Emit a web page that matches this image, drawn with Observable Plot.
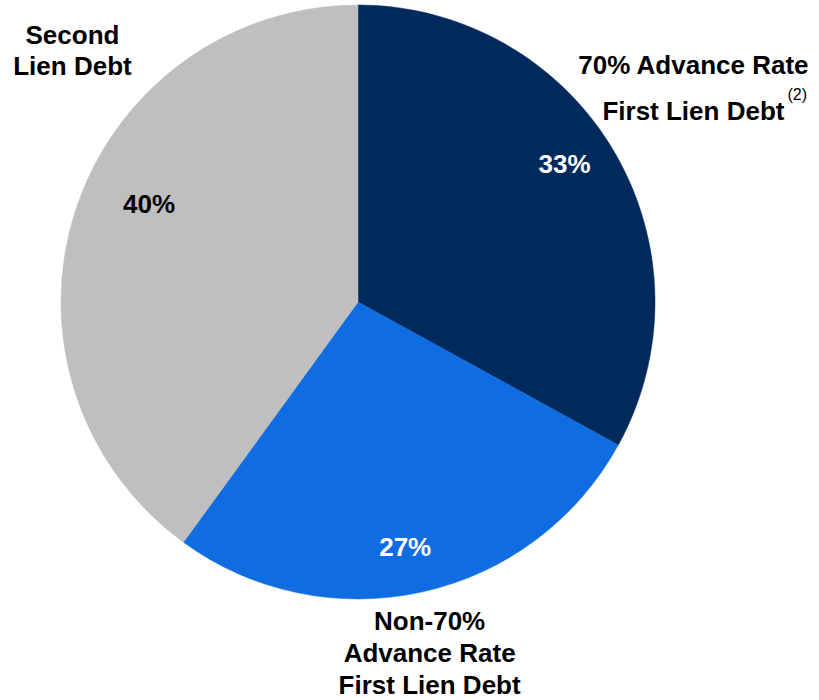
<!DOCTYPE html>
<html>
<head>
<meta charset="utf-8">
<script src="https://cdn.jsdelivr.net/npm/d3@7"></script>
<script src="https://cdn.jsdelivr.net/npm/@observablehq/plot@0.6"></script>
<style>
  html, body { margin: 0; padding: 0; background: #fff; }
  #chart { width: 819px; height: 700px; }
</style>
</head>
<body>
<div id="chart"></div>
<script>
// ---- data ----
const categories = ["70% Advance Rate\nFirst Lien Debt", "Non-70%\nAdvance Rate\nFirst Lien Debt", "Second\nLien Debt"];
const shares = [33, 27, 40];
const pctLabels = ["33%", "27%", "40%"];
const footnote = "(2)";

// ---- style / layout ----
const colors = ["#002A5C", "#0F6CE1", "#BFBFBF"];
const pctColors = ["#ffffff", "#ffffff", "#000000"];
// label placement in polar form (angle clockwise from 12 o'clock, radius in pie-radius units)
const pctPolar = [{a: 56.3, r: 0.834}, {a: 169.2, r: 0.839}, {a: 295.1, r: 0.779}];
const catPolar = [{a: 56.65, r: 1.350}, {a: 168.5, r: 1.201}, {a: 311.5, r: 1.286}];
const catLineHeight = [1.77, 1.23, 1.18];

const slices = categories.map((c, i) => ({category: c, value: shares[i], color: colors[i]}));
const polar = (p) => ({x: p.r * Math.sin(p.a * Math.PI / 180), y: p.r * Math.cos(p.a * Math.PI / 180)});

const pctData = pctLabels.map((t, i) => ({text: t, fill: pctColors[i], ...polar(pctPolar[i])}));
const catData = categories.map((t, i) => ({text: t, lh: catLineHeight[i], ...polar(catPolar[i])}));

const pieMark = (index, scales) => {
  const cx = scales.x(0), cy = scales.y(0);
  const R = scales.x(1) - scales.x(0);
  const pie = d3.pie().sort(null).value(d => d.value)(slices);
  const arc = d3.arc().innerRadius(0).outerRadius(R);
  const g = d3.create("svg:g").attr("transform", `translate(${cx},${cy})`);
  g.selectAll("path").data(pie).join("path")
    .attr("d", arc)
    .attr("fill", d => d.data.color)
    .attr("stroke", d => d.data.color)
    .attr("stroke-width", 0.5);
  return g.node();
};

const font = "'Liberation Sans', Arial, Helvetica, sans-serif";

const chart = Plot.plot({
  width: 819,
  height: 700,
  marginLeft: 61,
  marginRight: 164,
  marginTop: 5,
  marginBottom: 101,
  x: {domain: [-1, 1], axis: null},
  y: {domain: [-1, 1], axis: null},
  style: {fontFamily: font, background: "#fff", overflow: "visible"},
  marks: [
    pieMark,
    Plot.text(pctData, {x: "x", y: "y", text: "text", fill: "fill", fontSize: 26, fontWeight: "bold"}),
    ...catData.map(d => Plot.text([d], {x: "x", y: "y", text: "text", fill: "#000", fontSize: 26, fontWeight: "bold", lineHeight: d.lh})),
    Plot.text([catData[0]], {x: "x", y: "y", text: () => footnote, fill: "#000", fontSize: 16, textAnchor: "start", dx: 94, dy: 13})
  ]
});
document.getElementById("chart").appendChild(chart);
</script>
</body>
</html>
